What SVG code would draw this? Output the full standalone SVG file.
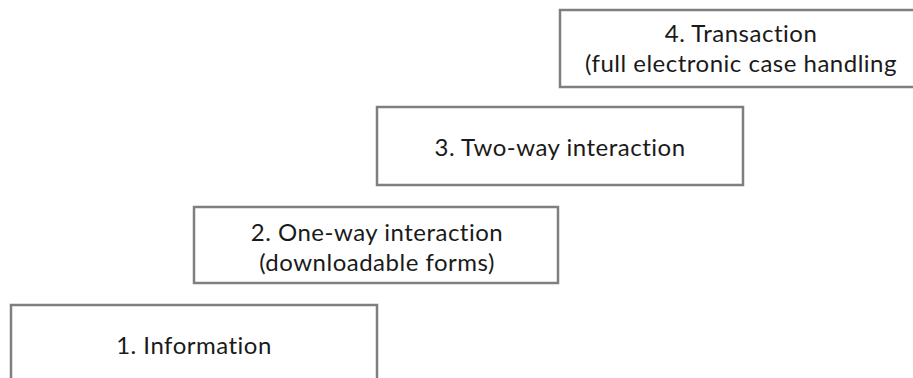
<svg xmlns="http://www.w3.org/2000/svg" width="913" height="378" viewBox="0 0 913 378">
<style>
.box{fill:#ffffff;stroke:#7f7f7f;stroke-width:2.5}
.lbl{font-family:Lato,"Open Sans","Liberation Sans",sans-serif;font-size:24px;letter-spacing:0.5px;fill:#1a1a1a;text-anchor:middle;font-variant-ligatures:none;font-feature-settings:"liga" 0}
</style>
<rect width="913" height="378" fill="#ffffff"/>
<g id="step4">
<rect class="box" x="560" y="10" width="366" height="77"/>
<text class="lbl" x="741" y="42">4. Transaction</text>
<text class="lbl" x="741" y="72">(full electronic case handling</text>
</g>
<g id="step3">
<rect class="box" x="377" y="107" width="366" height="78"/>
<text class="lbl" x="560" y="156">3. Two-way interaction</text>
</g>
<g id="step2">
<rect class="box" x="194" y="207" width="364" height="76"/>
<text class="lbl" x="377" y="241">2. One-way interaction</text>
<text class="lbl" x="377" y="271">(downloadable forms)</text>
</g>
<g id="step1">
<rect class="box" x="11" y="305" width="366" height="80"/>
<text class="lbl" x="194" y="354">1. Information</text>
</g>
<g id="connectors"></g>
</svg>
